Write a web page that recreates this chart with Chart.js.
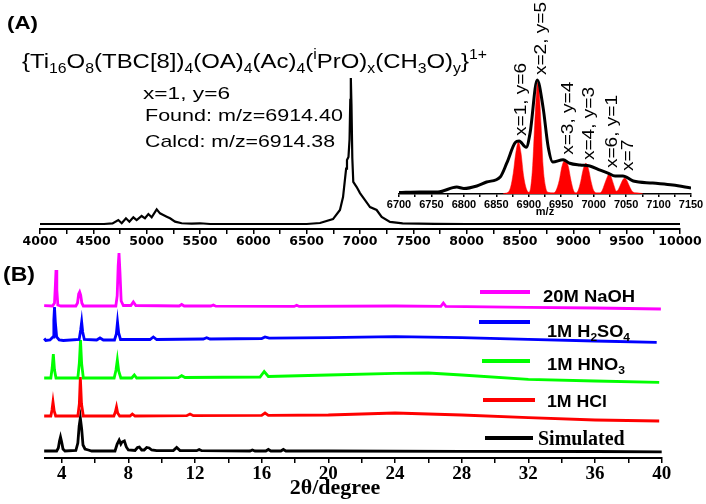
<!DOCTYPE html>
<html>
<head>
<meta charset="utf-8">
<script src="https://cdn.jsdelivr.net/npm/chart.js@4.4.1/dist/chart.umd.min.js"></script>
<style>
body { margin: 0; background: #fff; width: 706px; height: 504px; position: relative; overflow: hidden; }
canvas { position: absolute; }
</style>
</head>
<body>
<canvas id="msChart" width="706" height="250" style="left:0;top:0"></canvas>
<canvas id="insetChart" width="326" height="230" style="left:380px;top:0"></canvas>
<canvas id="xrdChart" width="706" height="264" style="left:0;top:240px"></canvas>
<script>
// ---- (A) ESI-MS, [m/z, relative intensity] ----
var msMain = [[4000,0],[4600,0],[4680,0.4],[4734,2.7],[4766,0.5],[4806,3.9],[4838,1.6],[4875,4.6],[4906,2.7],
  [4953,5.5],[4984,3.9],[5016,6.8],[5047,4.6],[5094,10],[5125,7.3],[5156,6.2],[5188,5],[5219,3.9],[5266,1.6],
  [5328,0.5],[5422,0.3],[5500,0.5],[5594,0],[6500,0],[6625,0.7],[6747,3.4],[6812,9.6],[6841,18.5],[6870,38],
  [6878,43.8],[6892,45.9],[6902,58],[6909,85],[6914,100],[6920,82],[6928,45],[6937,28.8],[6969,25.3],[7000,21.2],
  [7047,16.4],[7094,11.6],[7156,9.6],[7203,4.8],[7281,1.4],[7400,0.5],[7700,0.1],[8000,0],[10000,0]];
var msTicks = [4000,4500,5000,5500,6000,6500,7000,7500,8000,8500,9000,9500,10000];

// inset: measured envelope and simulated isotope pattern
var insetFound = [[6700,1.3],[6732,1.8],[6760,1.8],[6789,6.1],[6800,4.8],[6820,7],[6835,10.5],[6856,15],[6866,27],
  [6879,45],[6885,46.5],[6896,41],[6902,53.5],[6913,100],[6922,76],[6930,41],[6937,28],[6953,30],[6963,27],
  [6979,25.4],[6994,24.6],[7010,21],[7022,18.4],[7033,15.8],[7045,15.8],[7061,11.4],[7091,9.6],[7122,7.9],[7150,5.3]];
var insetCalc = [[6860,0],[6863,0.6],[6868,1.5],[6872,6],[6876,18],[6880,36],[6884,45.6],[6888,36],[6892,16],[6896,5],
  [6900,1.5],[6903,6],[6906,25],[6909,60],[6912,90],[6914,98],[6916,90],[6919,60],[6922,25],[6926,6],[6930,1.5],
  [6938,1],[6942,3],[6947,12],[6951,24],[6956,30],[6961,24],[6965,12],[6969,3],[6973,1],[6976,3],[6980,11],
  [6984,22],[6988,27],[6992,22],[6996,11],[7000,3],[7005,1],[7010,1],[7013,3],[7017,9],[7021,15],[7024,18.4],
  [7027,15],[7031,8],[7035,2.5],[7038,4],[7042,9],[7045,12.5],[7048,14],[7051,12],[7055,7],[7060,2],[7066,1],
  [7074,0.5],[7076,0]];
var insetTicks = [6700,6750,6800,6850,6900,6950,7000,7050,7100,7150];
var peakLabels = ['x=1, y=6', 'x=2, y=5', 'x=3, y=4', 'x=4, y=3', 'x=6, y=1', 'x=7'];
var peakMz = [6884, 6914, 6956, 6988, 7024, 7048];
var peakLevel = [46.5, 100, 30, 25.4, 18.4, 15.8];

// ---- (B) PXRD, [2theta, counts above own baseline] ----
var xrdNames = ['20M NaOH', '1M H2SO4', '1M HNO3', '1M HCl', 'Simulated'];
var xrdNaOH = [[2.95,0.3],[3.45,0],[3.57,3],[3.62,20],[3.66,36],[3.71,16],[3.77,1],[3.95,0],[4.85,0],[4.95,3],
  [5.02,12],[5.08,14],[5.14,11],[5.21,3],[5.3,0],[7.25,0],[7.33,10],[7.39,40],[7.44,53],[7.5,33],[7.57,5],
  [7.7,0.5],[8.15,0.5],[8.3,4],[8.45,0.5],[11.05,0],[11.2,1.5],[11.35,0],[12.95,0],[13.1,1],[13.25,-0.2],
  [17.95,-0.4],[18.1,0.8],[18.25,-0.4],[24,0],[26.75,-0.3],[26.9,3],[27.05,-0.3],[32,-1.3],[36,-2],[39.95,-3]];
var xrdH2SO4 = [[2.75,-1],[2.85,1.5],[2.95,1.5],[3.05,-0.5],[3.3,0],[3.48,3],[3.53,20],[3.57,33],[3.62,18],[3.7,3],
  [3.85,0],[4.1,-0.5],[5.05,0.5],[5.14,10],[5.2,18],[5.26,8],[5.36,0.5],[6.1,0],[6.3,2],[6.5,0],[7.17,0],
  [7.28,6],[7.35,18],[7.42,7],[7.53,0.5],[9.3,0.5],[9.5,3],[9.7,0.5],[12.5,1],[12.7,2.2],[12.9,1],[16,1.5],
  [16.2,3],[16.45,1.8],[20,2.3],[24,3.3],[28,2.3],[32,0.7],[36,-1],[39.7,-2.3]];
var xrdHNO3 = [[2.95,0],[3.35,0],[3.43,10],[3.5,24],[3.57,8],[3.66,0],[4.97,0],[5.06,15],[5.13,38],[5.2,14],
  [5.3,0],[7.15,0],[7.26,8],[7.34,18],[7.42,7],[7.55,0],[8.2,0],[8.36,3],[8.5,0],[11,0.3],[11.2,2.3],[11.4,0.5],
  [15.9,1],[16.15,6.5],[16.4,1.5],[20,3],[24,4.7],[26,5],[28,3],[32,-1.3],[36,-3],[39.85,-4.3]];
var xrdHCl = [[2.95,0],[3.35,0],[3.42,6],[3.48,14],[3.55,5],[3.64,0],[4.97,0],[5.06,12],[5.12,39],[5.19,12],
  [5.3,0],[7.13,0],[7.22,4],[7.29,9],[7.36,3],[7.48,0],[8.1,0],[8.24,2],[8.4,0],[11.5,0.3],[11.7,2],[11.9,0.3],
  [16,0.7],[16.2,3],[16.4,0.7],[20,1],[24,3],[28,1],[32,-1.7],[36,-4],[39.85,-5]];
var xrdSim = [[2.95,0],[3.7,0],[3.8,3],[3.87,10],[3.93,14],[4.0,9],[4.08,2],[4.2,0],[4.85,0.5],[4.97,8],[5.05,25],
  [5.12,33],[5.2,22],[5.28,6],[5.4,2],[5.6,1],[5.8,0],[7.2,0],[7.33,7],[7.45,11],[7.55,7],[7.62,9],[7.76,10],
  [7.88,4],[8.0,1],[8.4,0.5],[8.55,3.5],[8.66,4],[8.8,1],[8.95,1],[9.1,3.5],[9.25,3],[9.4,1],[9.7,0.3],[10.7,0.5],
  [10.9,3.5],[11.1,0.5],[12.1,0.3],[12.25,1.5],[12.4,0.3],[15.3,0],[15.44,1],[15.6,0],[16.25,0],[16.4,1.5],
  [16.55,0],[17.15,0],[17.3,1.5],[17.45,0],[20,0],[28,-0.3],[36,-0.5],[40,-0.8]];
var xrdTicks = [4, 8, 12, 16, 20, 24, 28, 32, 36, 40];

// ---- styles / layout ----
var sans = "'Liberation Sans', Arial, sans-serif";
var serif = "'Liberation Serif', 'Times New Roman', serif";
var xrdColors = ['#ff00ff', '#0000ff', '#00ff00', '#ff0000', '#000000'];
var xrdLift = [152, 118, 80, 42, 7];   // vertical stacking of the patterns

function pts(arr, lift) {
  return arr.map(function (p) { return { x: p[0], y: p[1] + (lift || 0) }; });
}

function drawRuns(ctx, runs, x, y, o) {
  var small = o.size * 0.66;
  var fontOf = function (r) { return (o.weight || 'normal') + ' ' + (r[1] === 'n' ? o.size : small) + 'px ' + o.family; };
  var widths = runs.map(function (r) { ctx.font = fontOf(r); return ctx.measureText(r[0]).width; });
  var w = widths.reduce(function (a, b) { return a + b; }, 0);
  var sx = o.width ? o.width / w : (o.sx || 1);
  ctx.save();
  ctx.translate(x - (o.align === 'center' ? w * sx / 2 : 0), y);
  ctx.scale(sx, 1);
  ctx.fillStyle = '#000';
  ctx.textAlign = 'left';
  ctx.textBaseline = 'alphabetic';
  var cx = 0;
  runs.forEach(function (r, i) {
    ctx.font = fontOf(r);
    var dy = r[1] === 'sub' ? o.size * 0.24 : (r[1] === 'sup' ? -o.size * 0.42 : 0);
    ctx.fillText(r[0], cx, dy);
    cx += widths[i];
  });
  ctx.restore();
}

// chemical names: digits that follow a letter become subscripts
function chemRuns(s) {
  var runs = [];
  for (var i = 0; i < s.length; i++) {
    var c = s[i];
    var kind = (/\d/.test(c) && i > 0 && /[A-Za-z\d]/.test(s[i - 1]) && runs.length && (runs[runs.length - 1][1] === 'sub' || /[A-Za-z]/.test(s[i - 1]))) ? 'sub' : 'n';
    if (runs.length && runs[runs.length - 1][1] === kind) runs[runs.length - 1][0] += c;
    else runs.push([c, kind]);
  }
  return runs;
}

function bottomAxis(min, max, step, labels, font, tickLen, pad, h) {
  return {
    type: 'linear', min: min, max: max,
    afterFit: function (s) { s.height = h; },
    grid: { drawOnChartArea: false, drawTicks: true, tickLength: tickLen, color: '#000', lineWidth: 1.5 },
    border: { display: true, color: '#000', width: 2 },
    ticks: {
      stepSize: step, includeBounds: false, autoSkip: false, maxRotation: 0, minRotation: 0,
      color: '#000', font: font, padding: pad,
      callback: function (v) { return labels.indexOf(v) >= 0 ? String(v) : ''; }
    }
  };
}

var common = {
  responsive: false, animation: false, events: [],
  plugins: { legend: { display: false }, tooltip: { enabled: false } },
  elements: { point: { radius: 0 } }
};

// ---- (A) main spectrum ----
var textA = {
  id: 'textA',
  afterDraw: function (chart) {
    var ctx = chart.ctx;
    drawRuns(ctx, [['(A)', 'n']], 7, 28.5, { size: 19, family: sans, weight: 'bold', width: 31 });
    drawRuns(ctx, [['{Ti','n'],['16','sub'],['O','n'],['8','sub'],['(TBC[8])','n'],['4','sub'],['(OA)','n'],['4','sub'],
      ['(Ac)','n'],['4','sub'],['(','n'],['i','sup'],['PrO)','n'],['x','sub'],['(CH','n'],['3','sub'],['O)','n'],
      ['y','sub'],['}','n'],['1+','sup']], 22, 68, { size: 21, family: sans, width: 465 });
    drawRuns(ctx, [['x=1, y=6', 'n']], 143, 98.5, { size: 17, family: sans, width: 87 });
    drawRuns(ctx, [['Found: m/z=6914.40', 'n']], 145, 121, { size: 17, family: sans, width: 198 });
    drawRuns(ctx, [['Calcd: m/z=6914.38', 'n']], 145, 147, { size: 17, family: sans, width: 190 });
  }
};

new Chart(document.getElementById('msChart'), {
  type: 'line',
  data: { datasets: [{ data: pts(msMain), borderColor: '#000', borderWidth: 2.2, tension: 0, fill: false }] },
  options: Object.assign({}, common, {
    layout: { padding: { left: 40, right: 26, top: 30, bottom: 0 } },
    scales: {
      x: bottomAxis(4000, 10000, 250, msTicks, { family: "'DejaVu Sans', sans-serif", size: 12.5, weight: 'bold' }, 5, 0, 21),
      y: { display: false, min: -3.42, max: 132.9 }
    }
  }),
  plugins: [textA]
});

// ---- (A) inset ----
var insetText = {
  id: 'insetText',
  afterDatasetsDraw: function (chart) {
    var ctx = chart.ctx, xs = chart.scales.x, ys = chart.scales.y;
    peakLabels.forEach(function (t, i) {
      ctx.save();
      ctx.translate(xs.getPixelForValue(peakMz[i]) + 2, ys.getPixelForValue(peakLevel[i]) - 5);
      ctx.rotate(-Math.PI / 2);
      drawRuns(ctx, [[t, 'n']], 0, 6, { size: 17, family: sans, sx: 1.12 });
      ctx.restore();
    });
  }
};

var insetAxis = bottomAxis(6700, 7150, 25, insetTicks, { family: sans, size: 11, weight: 'bold' }, 3, 1.4, 36);
insetAxis.border.width = 1.5;
insetAxis.title = { display: true, text: 'm/z', color: '#000', font: { family: sans, size: 11, weight: 'bold' }, padding: { top: 0, bottom: 11.4 } };

new Chart(document.getElementById('insetChart'), {
  type: 'line',
  data: {
    datasets: [
      { data: pts(insetFound), borderColor: '#000', borderWidth: 3, cubicInterpolationMode: 'monotone', fill: false },
      { data: pts(insetCalc), borderColor: '#ff0000', backgroundColor: '#ff0000', borderWidth: 0.5,
        cubicInterpolationMode: 'monotone', fill: 'origin' }
    ]
  },
  options: Object.assign({}, common, {
    layout: { padding: { left: 19, right: 15, top: 70, bottom: 0 } },
    scales: { x: insetAxis, y: { display: false, min: 0, max: 108.8 } }
  }),
  plugins: [insetText]
});

// ---- (B) PXRD ----
var legendRows = [
  { y: 292, x0: 480, x1: 530, tx: 543, ty: 302, w: 92 },
  { y: 322, x0: 479, x1: 530, tx: 547, ty: 337, w: 83 },
  { y: 361, x0: 482, x1: 530, tx: 547, ty: 370, w: 78 },
  { y: 400, x0: 483, x1: 535, tx: 547, ty: 407, w: 60 },
  { y: 438, x0: 485, x1: 533, tx: 538, ty: 445, serif: true }
];
var textB = {
  id: 'textB',
  afterDraw: function (chart) {
    var ctx = chart.ctx;
    ctx.save();
    ctx.translate(0, -240);
    drawRuns(ctx, [['(B)', 'n']], 3, 281, { size: 20, family: sans, weight: 'bold', width: 32 });
    legendRows.forEach(function (r, i) {
      ctx.strokeStyle = xrdColors[i];
      ctx.lineWidth = 4;
      ctx.beginPath(); ctx.moveTo(r.x0, r.y); ctx.lineTo(r.x1, r.y); ctx.stroke();
      if (r.serif) drawRuns(ctx, [[xrdNames[i], 'n']], r.tx, r.ty, { size: 20, family: serif, weight: 'bold' });
      else drawRuns(ctx, chemRuns(xrdNames[i]), r.tx, r.ty, { size: 16, family: sans, weight: 'bold', width: r.w });
    });
    drawRuns(ctx, [['2\u03b8/degree', 'n']], 335, 494, { size: 22, family: serif, weight: 'bold', align: 'center' });
    ctx.restore();
  }
};

var xrdSeries = [xrdNaOH, xrdH2SO4, xrdHNO3, xrdHCl, xrdSim];
new Chart(document.getElementById('xrdChart'), {
  type: 'line',
  data: {
    datasets: xrdSeries.map(function (s, i) {
      return { data: pts(s, xrdLift[i]), borderColor: xrdColors[i], borderWidth: 2.8, tension: 0, fill: false, clip: 8 };
    })
  },
  options: Object.assign({}, common, {
    layout: { padding: { left: 45, right: 44.3, top: 5, bottom: 0 } },
    scales: {
      x: bottomAxis(3, 40, 2, xrdTicks, { family: serif, size: 19, weight: 'bold' }, 5, 0, 46),
      y: { display: false, min: 0, max: 213 }
    }
  }),
  plugins: [textB]
});
</script>
</body>
</html>
